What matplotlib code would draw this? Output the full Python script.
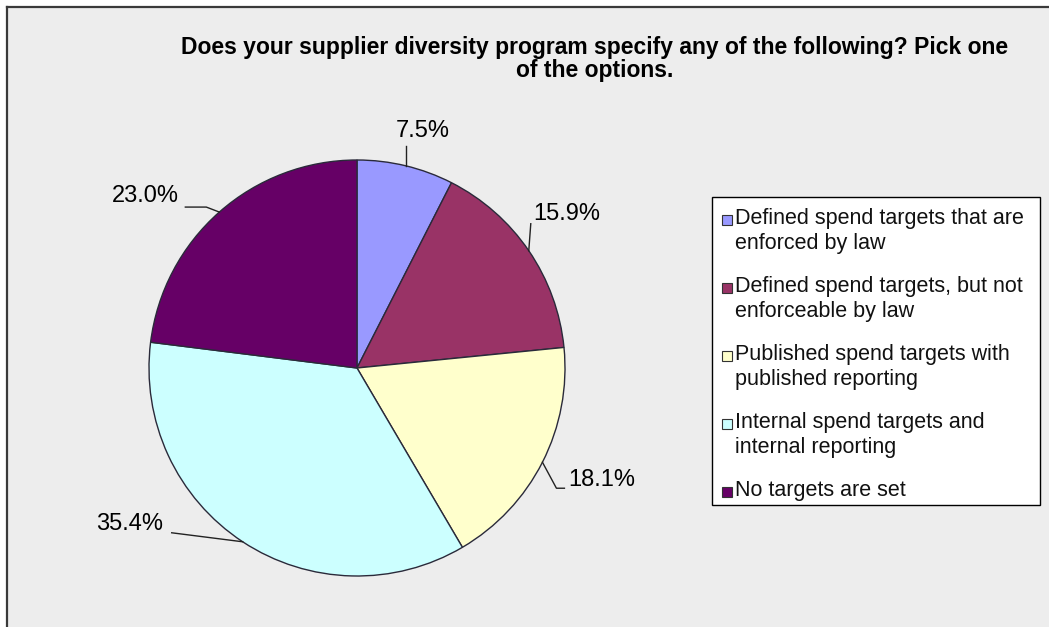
import textwrap
import numpy as np
import matplotlib.pyplot as plt
from matplotlib.patches import Rectangle

# data
categories = [
    "Defined spend targets that are enforced by law",
    "Defined spend targets, but not enforceable by law",
    "Published spend targets with published reporting",
    "Internal spend targets and internal reporting",
    "No targets are set",
]
shares = [7.5, 15.9, 18.1, 35.4, 23.0]
colors = ['#9999FF', '#993366', '#FFFFCC', '#CCFFFF', '#660066']
title = ("Does your supplier diversity program specify any of the following? Pick one\n"
         "of the options.")

plt.rcParams['font.family'] = ['Liberation Sans', 'DejaVu Sans']

W, H = 1049, 627
fig = plt.figure(figsize=(W / 100, H / 100), dpi=100)
fig.patch.set_facecolor('white')
ax = fig.add_axes([0, 0, 1, 1])


def Y(y):
    # image coords (y down) -> axes coords (y up)
    return H - y


# chart area background + frame
ax.add_patch(Rectangle((7, 0), W - 7, H - 7, facecolor='#EDEDED', edgecolor='none', zorder=0))
ax.plot([7, 7], [0, Y(7)], color='#3a3a3a', lw=1.6, zorder=1)
ax.plot([7, W], [Y(7), Y(7)], color='#3a3a3a', lw=1.6, zorder=1)

cx, cy, R = 357, Y(368), 208
wedges, _ = ax.pie(shares, colors=colors, startangle=90, counterclock=False,
                   center=(cx, cy), radius=R,
                   wedgeprops=dict(edgecolor='#2a2a3a', linewidth=1))

# label offsets from the wedge edge point (image px, y down) and leader paths
label_offsets = [(17, -35), (38, -37), (59, 18), (-113, -18), (-74, -16)]
leader_paths = [
    [(0, 0), (0, -20)],
    [(0, 0), (2, -27)],
    [(0, 0), (14, 26), (22, 26)],
    [(0, 0), (-71, -9)],
    [(0, 0), (-13, -5), (-34, -5)],
]

for w, val, off, path in zip(wedges, shares, label_offsets, leader_paths):
    mid = np.deg2rad((w.theta1 + w.theta2) / 2)
    ex, ey = cx + R * np.cos(mid), cy + R * np.sin(mid)
    xs = [ex + p[0] for p in path]
    ys = [ey - p[1] for p in path]
    ax.plot(xs, ys, color='#222222', lw=1, zorder=3)
    ax.text(ex + off[0], ey - off[1], f"{val:.1f}%", ha='center', va='center',
            fontsize=17, color='black', zorder=4)

ax.text(595, Y(59), title, ha='center', va='center', fontsize=16.5,
        fontweight='bold', linespacing=1.05)

# legend box
ax.add_patch(Rectangle((712, Y(505)), 1040 - 712, 505 - 197, facecolor='white',
                       edgecolor='black', lw=1, zorder=2))
for i, (cat, col) in enumerate(zip(categories, colors)):
    yc = 219 + i * 68
    ax.add_patch(Rectangle((722, Y(yc + 6)), 10, 10, facecolor=col,
                           edgecolor='#333333', lw=0.8, zorder=3))
    ax.text(735, Y(yc - 11), textwrap.fill(cat, 30), ha='left', va='top',
            fontsize=15.5, color='#111111', linespacing=1.28, zorder=3)

ax.set_xlim(0, W)
ax.set_ylim(0, H)
ax.set_aspect('equal')
ax.axis('off')

fig.savefig('out.png', dpi=100, facecolor=fig.get_facecolor())
